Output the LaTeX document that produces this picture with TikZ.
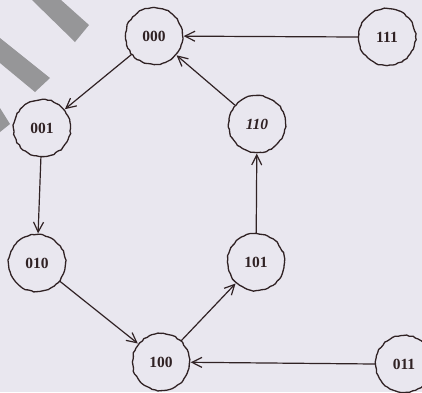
\documentclass[tikz,border=0pt]{standalone}
\usepackage{fontspec}
\setmainfont{Liberation Serif}
\usetikzlibrary{arrows.meta,decorations.pathmorphing}
\definecolor{paper}{RGB}{233,231,239}
\definecolor{ink}{RGB}{48,34,36}
\definecolor{bar}{RGB}{150,150,152}
\tikzset{
  state/.style={circle, draw=ink, line width=1.3pt, minimum size=57pt, inner sep=0pt,
    font=\fontsize{15.5}{17}\selectfont\bfseries, text=ink,
    decorate, decoration={random steps, segment length=3pt, amplitude=0.6pt}},
  trans/.style={draw=ink, line width=1.2pt, -{Straight Barb[length=10pt,width=10pt,line width=1.2pt]}, shorten >=0.5pt},
  stripe/.style={fill=bar, draw=none}
}
\pgfmathsetseed{7}
\begin{document}
\begin{tikzpicture}[x=1pt,y=-1pt]
  % page
  \fill[paper] (0,0) rectangle (422,392);
  \useasboundingbox (0,0) rectangle (422,392);
  % grey diagonal stripes at the top-left corner
  \fill[stripe] (32,0) -- (61,0) -- (89,25) -- (75,42) -- cycle;
  \fill[stripe] (0,38) -- (0,63) -- (35,92) -- (50,78) -- cycle;
  \fill[stripe] (0,108) -- (0,132) -- (10,124) -- cycle;
  % states
  \node[state] (s000) at (154,36) {000};
  \node[state] (s111) at (387,37) {111};
  \node[state] (s001) at (42,128) {001};
  \node[state] (s110) at (257,124) {\itshape 110};
  \node[state] (s010) at (37,263) {010};
  \node[state] (s101) at (256,262) {101};
  \node[state] (s100) at (161,362) {100};
  \node[state] (s011) at (404,364) {011};
  % transitions
  \draw[trans] (s111.west) -- (s000);
  \draw[trans] (s000) -- (s001);
  \draw[trans] (s001) -- (s010);
  \draw[trans] (s010) -- (s100);
  \draw[trans] (s100) -- (s101);
  \draw[trans] (s101) -- (s110);
  \draw[trans] (s110) -- (s000);
  \draw[trans] (s011.west) -- (s100);
\end{tikzpicture}
\end{document}
